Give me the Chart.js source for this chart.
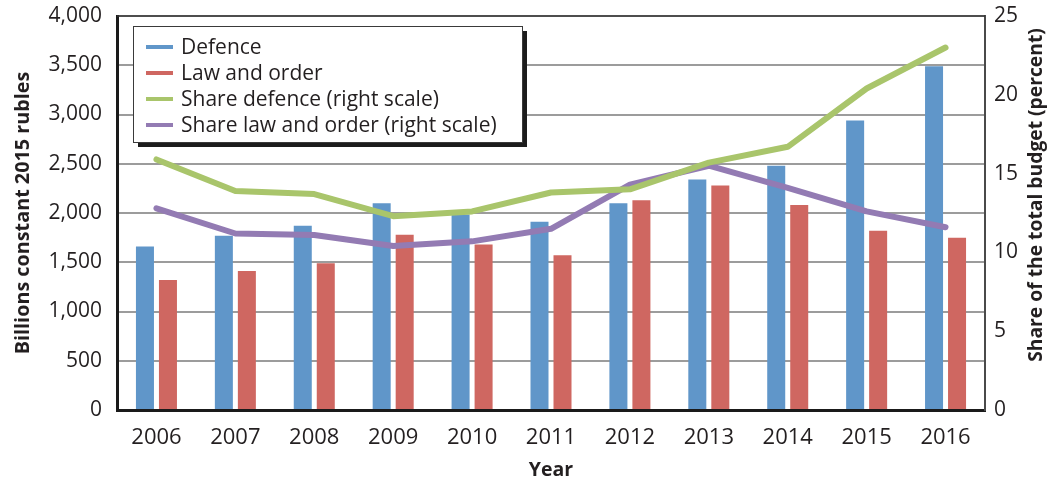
<!DOCTYPE html>
<html>
<head>
<meta charset="utf-8">
<script src="https://cdn.jsdelivr.net/npm/chart.js@4/dist/chart.umd.min.js"></script>
<style>
  html, body { margin: 0; padding: 0; background: #fff; }
  #chart { display: block; }
</style>
</head>
<body>
<canvas id="chart" width="1052" height="482"></canvas>
<script>
// Spending data, 2006-2016
const years = ['2006', '2007', '2008', '2009', '2010', '2011', '2012', '2013', '2014', '2015', '2016'];
const defence = [1660, 1770, 1870, 2100, 1985, 1910, 2100, 2340, 2480, 2940, 3490];
const lawAndOrder = [1320, 1410, 1490, 1780, 1680, 1570, 2130, 2280, 2080, 1820, 1750];
const shareDefence = [15.9, 13.9, 13.7, 12.3, 12.6, 13.8, 14.0, 15.7, 16.7, 20.4, 23.0];
const shareLawAndOrder = [12.8, 11.2, 11.1, 10.4, 10.7, 11.5, 14.3, 15.5, 14.1, 12.6, 11.6];

const FONT = '"Open Sans", "DejaVu Sans", sans-serif';
const TEXT = '#231f20';

// Legend in a boxed frame with a drop shadow, drawn over the plot area
const boxLegend = {
  id: 'boxLegend',
  afterDraw(chart) {
    const { ctx } = chart;
    const x = 133, y = 26, w = 389, h = 116;
    ctx.save();
    ctx.fillStyle = '#1c1c1c';
    ctx.fillRect(x + 5, y + 5, w, h);
    ctx.fillStyle = '#fff';
    ctx.fillRect(x, y, w, h);
    ctx.strokeStyle = '#3a3a3a';
    ctx.lineWidth = 1;
    ctx.strokeRect(x + 0.5, y + 0.5, w, h);

    ctx.font = '21px ' + FONT;
    ctx.textBaseline = 'middle';
    ctx.textAlign = 'left';
    chart.data.datasets.forEach((ds, i) => {
      const rowY = y + 21 + i * 26;
      ctx.fillStyle = ds.legendColor;
      ctx.fillRect(x + 13, rowY - 2, 27, 4);
      ctx.fillStyle = TEXT;
      ctx.fillText(ds.label, x + 48, rowY + 1);
    });
    ctx.restore();
  }
};

// Thin top frame line and the right-hand axis title (reads bottom to top)
const frameExtras = {
  id: 'frameExtras',
  afterDraw(chart) {
    const { ctx, chartArea } = chart;
    ctx.save();
    ctx.strokeStyle = '#333';
    ctx.lineWidth = 1.5;
    ctx.beginPath();
    ctx.moveTo(chartArea.left, chartArea.top);
    ctx.lineTo(chartArea.right, chartArea.top);
    ctx.stroke();

    ctx.translate(1037, 195);
    ctx.rotate(-Math.PI / 2);
    ctx.font = 'bold 19.3px ' + FONT;
    ctx.fillStyle = TEXT;
    ctx.textAlign = 'center';
    ctx.textBaseline = 'middle';
    ctx.fillText('Share of the total budget (percent)', 0, 0);
    ctx.restore();
  }
};

const barCommon = { type: 'bar', yAxisID: 'y', order: 2, categoryPercentage: 0.583, barPercentage: 0.783 };
const lineCommon = {
  type: 'line', yAxisID: 'y1', order: 1, borderWidth: 6, pointRadius: 0,
  tension: 0, fill: false, borderCapStyle: 'round', borderJoinStyle: 'round'
};

// keep the plot area where the layout puts it, without room for half tick labels
function fixWidth(w) {
  return scale => {
    scale.width = w;
    scale.paddingTop = 0;
    scale.paddingBottom = 0;
  };
}

new Chart(document.getElementById('chart'), {
  data: {
    labels: years,
    datasets: [
      { ...barCommon, label: 'Defence', data: defence, backgroundColor: '#6096c9', legendColor: '#6096c9' },
      { ...barCommon, label: 'Law and order', data: lawAndOrder, backgroundColor: '#cf6761', legendColor: '#cf6761' },
      { ...lineCommon, label: 'Share defence (right scale)', data: shareDefence, borderColor: '#a9c56b', legendColor: '#a9c56b' },
      { ...lineCommon, label: 'Share law and order (right scale)', data: shareLawAndOrder, borderColor: '#937bb3', legendColor: '#937bb3' }
    ]
  },
  options: {
    responsive: false,
    devicePixelRatio: 1,
    animation: false,
    layout: { padding: { top: 16, right: 0, left: 0, bottom: 0 } },
    plugins: { legend: { display: false }, tooltip: { enabled: false } },
    scales: {
      x: {
        z: 1,
        grid: { display: false },
        border: { display: true, color: '#1a1a1a', width: 3 },
        ticks: { color: TEXT, font: { family: FONT, size: 22 }, padding: 7, maxRotation: 0 },
        title: { display: true, text: 'Year', color: TEXT, font: { family: FONT, size: 19.5, weight: 'bold' }, padding: { top: 0, bottom: 0 } },
        afterFit(scale) { scale.height = 72; scale.paddingLeft = 0; scale.paddingRight = 0; }
      },
      y: {
        position: 'left',
        min: 0, max: 4000,
        ticks: {
          stepSize: 500, color: TEXT, padding: 15,
          font: { family: FONT, size: 21 },
          callback: v => v.toLocaleString('en-US')
        },
        grid: { color: '#9c9c9c', lineWidth: 2, drawTicks: false },
        border: { display: true, color: '#1a1a1a', width: 3 },
        title: { display: true, text: 'Billions constant 2015 rubles', color: TEXT, font: { family: FONT, size: 19.8, weight: 'bold' }, padding: { top: 11, bottom: 0 } },
        afterFit: fixWidth(117)
      },
      y1: {
        position: 'right',
        min: 0, max: 25,
        ticks: { stepSize: 5, color: TEXT, padding: 9, font: { family: FONT, size: 21 } },
        grid: { drawOnChartArea: false, drawTicks: false },
        border: { display: true, color: '#4a4a4a', width: 2 },
        afterFit: fixWidth(67)
      }
    }
  },
  plugins: [boxLegend, frameExtras]
});
</script>
</body>
</html>
